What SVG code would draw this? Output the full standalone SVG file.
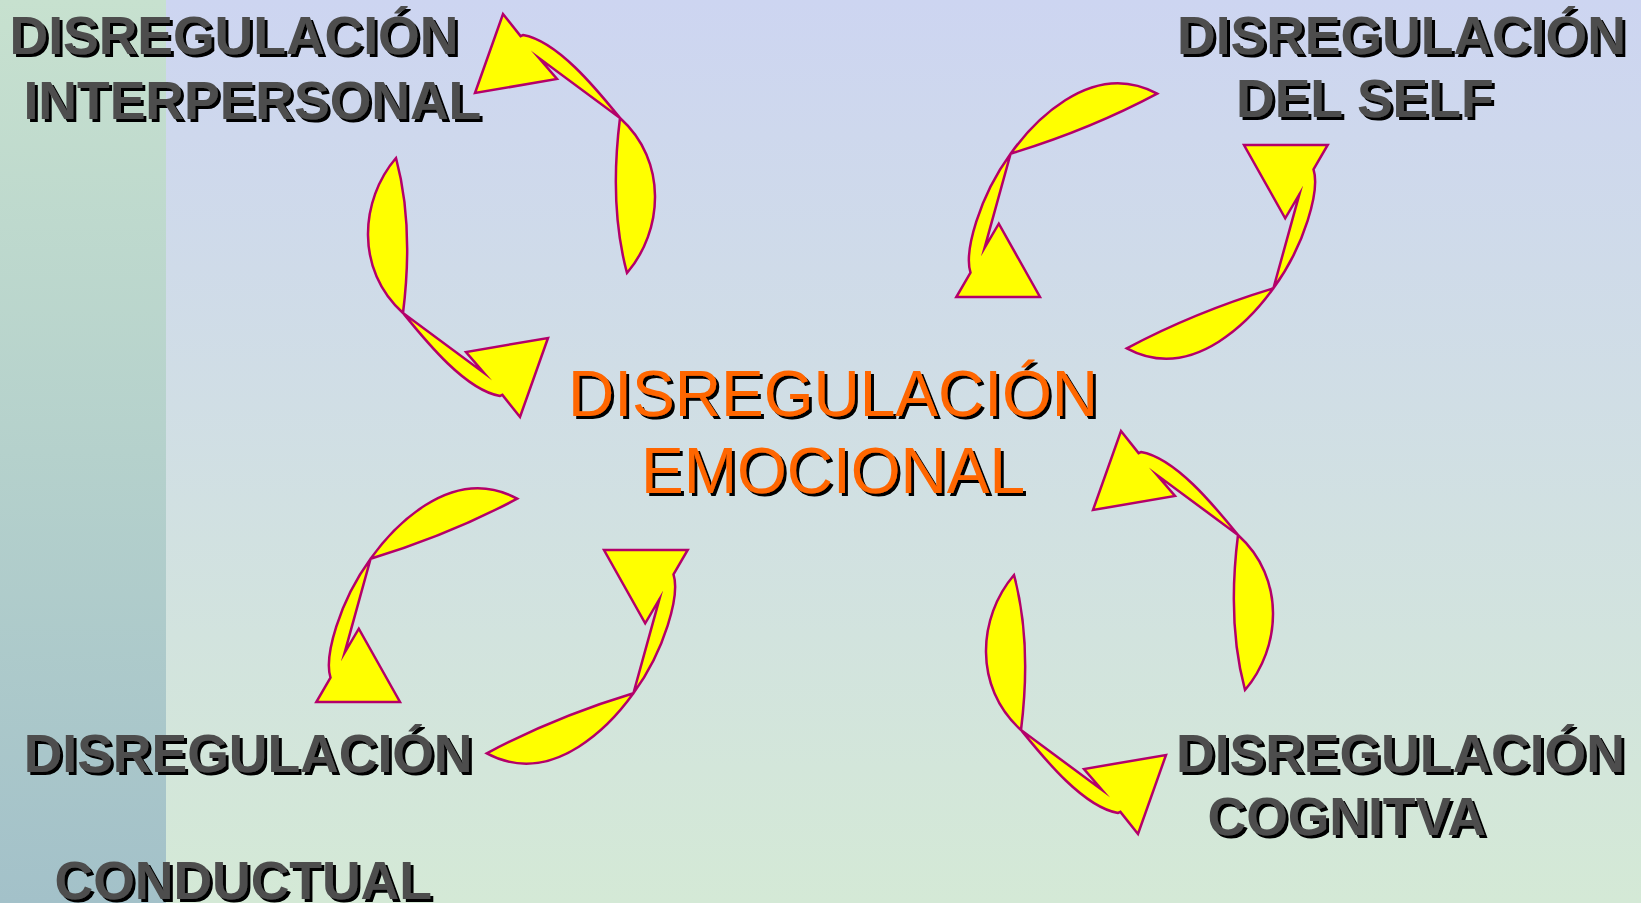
<svg xmlns="http://www.w3.org/2000/svg" width="1641" height="903" viewBox="0 0 1641 903">
<style>
.lbl{font-family:"Liberation Sans",Arial,sans-serif;font-weight:bold;font-size:53.5px;fill:#4D4D4D;filter:url(#sh)}
.ctr{font-family:"Liberation Sans",Arial,sans-serif;font-size:64px;fill:#FF6600;text-anchor:middle;filter:url(#sh)}
.arr{fill:#FFFF00;stroke:#B4006A;stroke-width:2.5;stroke-linejoin:miter;stroke-miterlimit:10}
</style>
<defs>
<linearGradient id="bgMain" x1="0" y1="0" x2="0" y2="1">
<stop offset="0" stop-color="#CDD5F1"/>
<stop offset="1" stop-color="#D4E9D6"/>
</linearGradient>
<linearGradient id="bgStrip" x1="0" y1="0" x2="0" y2="1">
<stop offset="0" stop-color="#C7E1CF"/>
<stop offset="1" stop-color="#A3C1C9"/>
</linearGradient>
<filter id="sh" x="-5%" y="-20%" width="115%" height="150%">
<feOffset in="SourceAlpha" dx="3" dy="3" result="o"/>
<feMerge><feMergeNode in="o"/><feMergeNode in="SourceGraphic"/></feMerge>
</filter>
<path id="arrA" d="M396,158 C360,200 355,270 403,313 C425,340 465,390 500,396 L502.4,394.9 L520,417 L548,338 L466,352 L484,373 L403,313 Q414,225 396,158 Z"/>
<path id="arrB" d="M1244,145 L1327.7,145 L1313.5,169.3 C1320,190 1305,245 1273.4,288.3 C1255,314 1195,385 1126.8,348.3 Q1195,312 1273.4,288.3 L1299.4,194.2 L1285.2,218.3 Z"/>
</defs>
<g id="background">
<rect x="0" y="0" width="1641" height="903" fill="url(#bgMain)"/>
<rect x="0" y="0" width="166" height="903" fill="url(#bgStrip)"/>
</g>
<g id="connectors">
<g id="cycle-interpersonal" class="arr">
<use href="#arrA"/>
<use href="#arrA" transform="rotate(180 511.5 215.5)"/>
</g>
<g id="cycle-cognitiva" class="arr" transform="translate(618 417)">
<use href="#arrA"/>
<use href="#arrA" transform="rotate(180 511.5 215.5)"/>
</g>
<g id="cycle-self" class="arr">
<use href="#arrB"/>
<use href="#arrB" transform="rotate(180 1142 221)"/>
</g>
<g id="cycle-conductual" class="arr" transform="translate(-640 405)">
<use href="#arrB"/>
<use href="#arrB" transform="rotate(180 1142 221)"/>
</g>
</g>
<g id="node-emocional">
<text class="ctr" x="833" y="416">DISREGULACIÓN</text>
<text class="ctr" x="833" y="493">EMOCIONAL</text>
</g>
<g id="node-interpersonal">
<text class="lbl" x="9.5" y="54">DISREGULACIÓN</text>
<text class="lbl" x="23.5" y="118.5">INTERPERSONAL</text>
</g>
<g id="node-self">
<text class="lbl" x="1177" y="54">DISREGULACIÓN</text>
<text class="lbl" x="1236" y="117">DEL SELF</text>
</g>
<g id="node-conductual">
<text class="lbl" x="23.7" y="772">DISREGULACIÓN</text>
<text class="lbl" x="54.5" y="899">CONDUCTUAL</text>
</g>
<g id="node-cognitiva">
<text class="lbl" x="1176" y="772">DISREGULACIÓN</text>
<text class="lbl" x="1207.5" y="835">COGNITVA</text>
</g>
</svg>
